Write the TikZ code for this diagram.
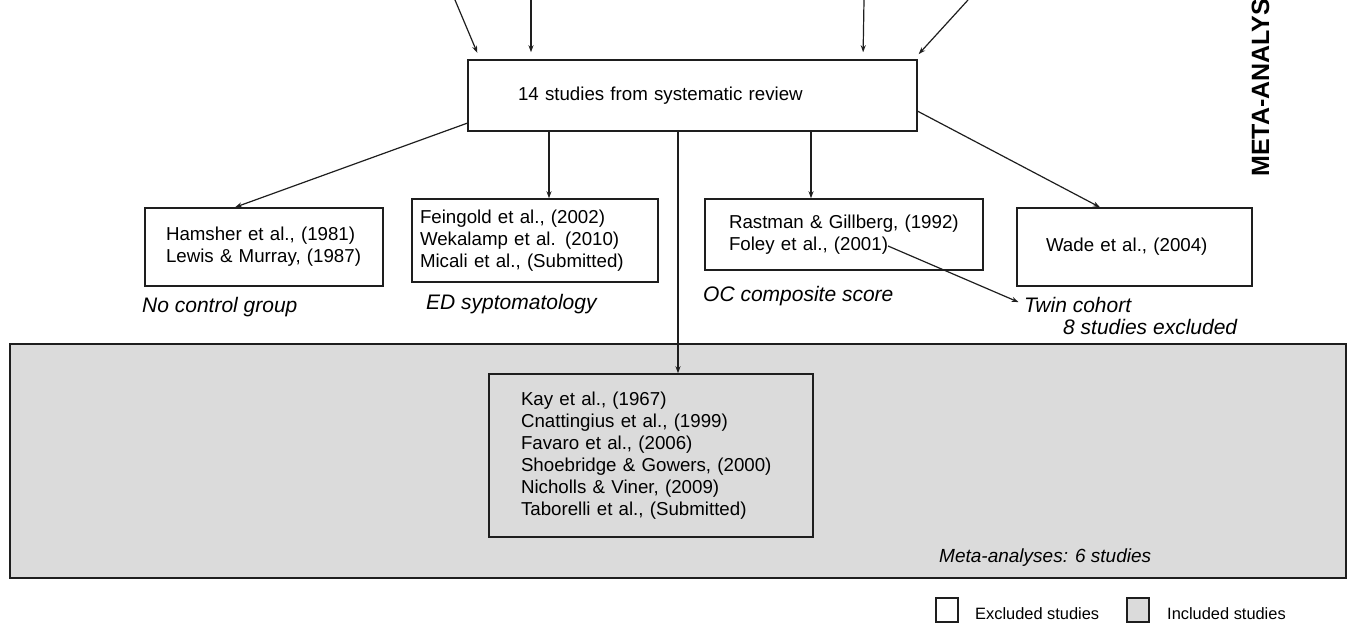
\documentclass[tikz,border=0pt]{standalone}
\usepackage{fontspec}
\setmainfont{Liberation Sans}
\usetikzlibrary{arrows.meta}
\definecolor{incgray}{RGB}{219,219,219}
\definecolor{linegray}{RGB}{30,30,30}
\newcommand{\studyfont}{\fontsize{18.7}{22}\selectfont}
\newcommand{\reasonfont}{\fontsize{21}{24}\selectfont}
\newcommand{\legendfont}{\fontsize{16.4}{19}\selectfont}
\tikzset{
	studybox/.style={draw=linegray, line width=1.5pt, align=left, inner ysep=0pt, font=\studyfont},
	arr/.style={draw=linegray, line width=1.2pt, -{Stealth[length=7pt,width=5pt]}},
	reason/.style={font=\reasonfont\itshape, inner sep=0pt, anchor=base west},
	keybox/.style={draw=linegray, line width=1.2pt, minimum width=22pt, minimum height=24pt, inner sep=0pt},
}
\begin{document}
\begin{tikzpicture}[x=1pt, y=-1pt]
					\useasboundingbox (0,0) rectangle (1348,624);
					
					\draw[draw=linegray, line width=1.6pt, fill=incgray] (10,344) rectangle (1346,578);
					
					\node[studybox, minimum height=71pt, text width=349pt, inner xsep=50pt] (review) at (692.5,95.5) {14 studies from systematic review};
					
					\node[studybox, minimum height=78pt, text width=196pt, inner xsep=21pt] (ctrl) at (264,247) {Hamsher et al., (1981)\\Lewis \& Murray, (1987)};
					\node[studybox, minimum height=83pt, text width=230pt, inner xsep=8pt] (ed) at (535,240.5) {Feingold et al., (2002)\\Wekalamp et al. (2010)\\Micali et al., (Submitted)};
					\node[studybox, minimum height=71pt, text width=230pt, inner xsep=24pt] (oc) at (844,234.5) {Rastman \& Gillberg, (1992)\\Foley et al., (2001)};
					\node[studybox, minimum height=78pt, text width=177pt, inner xsep=29pt] (wade) at (1134.5,247) {Wade et al., (2004)};
					
					\node[studybox, minimum height=163pt, text width=260pt, inner xsep=32pt] (incl) at (651,455.5) {Kay et al., (1967)\\Cnattingius et al., (1999)\\Favaro et al., (2006)\\Shoebridge \& Gowers, (2000)\\Nicholls \& Viner, (2009)\\Taborelli et al., (Submitted)};
					
					\node[reason] (noctrl) at (142,312.5) {No control group};
					\node[reason] (edsym) at (426,309.5) {ED syptomatology};
					\node[reason] (ocscore) at (703,301.5) {OC composite score};
					\node[reason] (twin) at (1024,312) {Twin cohort};
					\node[reason] (excl8) at (1063,334.5) {8 studies excluded};
					\node[reason, font=\fontsize{19}{22}\selectfont\itshape] (meta6) at (939,562) {Meta-analyses: 6 studies};
					
					\coordinate (src1) at (455,0);
					\coordinate (src2) at (531,0);
					\coordinate (src3) at (864,0);
					\coordinate (src4) at (968,0);
					\foreach \i/\dx in {1/-212.5, 2/-161.5, 3/170.5, 4/221.5}
						\draw[arr, shorten >=7pt] (src\i) -- ([xshift=\dx pt]review.north);
					
					\coordinate (edin) at ([xshift=14pt]ed.north);
					\coordinate (ocin) at ([xshift=-33pt]oc.north);
					\coordinate (inclin) at ([xshift=27pt]incl.north);
					\coordinate (foley) at (888,246);
					
					\draw[arr] (review.187) -- (ctrl.126);
					\draw[arr] (review.south -| edin) -- (edin);
					\draw[arr] (review.south -| inclin) -- (inclin);
					\draw[arr] (review.south -| ocin) -- (ocin);
					\draw[arr] (review.-4) -- (wade.131);
					\draw[arr, shorten >=6pt] (foley) -- (twin.west);
					
					\begin{scope}
						\clip (0,0) rectangle (1348,624);
						\node[rotate=90, anchor=base west, inner sep=0pt, font=\fontsize{25}{25}\selectfont\bfseries] (metatitle) at (1269,177) {META-ANALYSIS};
					\end{scope}
					
					\node[keybox, fill=white] (exkey) at (947,610) {};
					\node[font=\legendfont, inner sep=0pt, anchor=base west] (exlbl) at (975,619) {Excluded studies};
					\node[keybox, fill=incgray] (inkey) at (1138,610) {};
					\node[font=\legendfont, inner sep=0pt, anchor=base west] (inlbl) at (1167,619) {Included studies};
				\end{tikzpicture}
\end{document}
